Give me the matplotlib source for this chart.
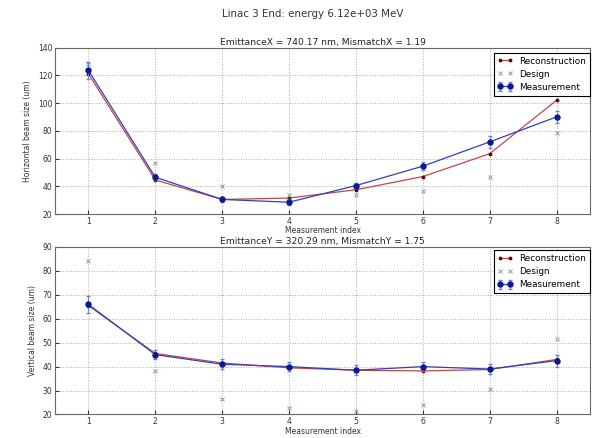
import matplotlib
matplotlib.use("Agg")
import matplotlib.pyplot as plt
import numpy as np

index = [1, 2, 3, 4, 5, 6, 7, 8]

recon_x = [121, 44.5, 30.5, 31.5, 37.5, 47, 63.5, 102]
meas_x = [123.5, 46.5, 30.5, 28.5, 40.5, 54.5, 72, 90]
meas_x_err = [6, 2, 1.5, 2, 2, 3, 4.5, 4.5]
design_x = [128, 57, 40, 34, 33.5, 36.5, 47, 78.5]

recon_y = [65.5, 45.5, 41.5, 39.5, 38.5, 38.2, 38.8, 43]
meas_y = [66, 45, 41, 40, 38.5, 40, 39, 42.5]
meas_y_err = [3.5, 2, 2, 2, 2, 2, 2, 2.5]
design_y = [84, 38, 26.5, 22.5, 21.5, 24, 30.5, 51.5]

title = "Linac 3 End: energy 6.12e+03 MeV"
title_x = "EmittanceX = 740.17 nm, MismatchX = 1.19"
title_y = "EmittanceY = 320.29 nm, MismatchY = 1.75"

plt.rcParams['font.family'] = 'DejaVu Sans'

fig = plt.figure(figsize=(5.98, 4.38), dpi=100)
fig.text(313 / 598, 0.968, title, fontsize=7.4, ha='center', va='center', color='#333333')


def draw_panel(ax, recon, meas, err, design, sub_title, ylabel, ylim, yticks, leg_top):
    ax.plot(index, recon, '.-', color='#c04848', markerfacecolor='#6b0000',
            markeredgecolor='#6b0000', markersize=3.5, linewidth=0.9, label='Reconstruction')
    ax.plot(index, design, 'x', color='#7aaa86', markersize=3, markeredgewidth=0.7,
            linestyle='none', label='Design')
    ax.errorbar(index, meas, yerr=err, fmt='o-', color='#3040b8', markerfacecolor='#0b1a8c',
                markeredgecolor='#0b1a8c', ecolor='#7080d8', markersize=3.6, linewidth=0.9,
                elinewidth=0.8, capsize=1.5, label='Measurement')
    ax.set_xlim(0.5, 8.5)
    ax.set_ylim(*ylim)
    ax.set_xticks(index)
    ax.set_yticks(yticks)
    ax.grid(True, linestyle=':', color='#aaaaaa', linewidth=0.7)
    ax.tick_params(axis='x', labelsize=5.5, colors='#333333', length=3, direction='in', pad=2)
    ax.tick_params(axis='y', labelsize=5.5, colors='#333333', length=3, direction='in', pad=2)
    for s in ax.spines.values():
        s.set_color('#666666')
    ax.set_title(sub_title, fontsize=6.6, pad=2, color='#222222')
    ax.set_xlabel('Measurement index', fontsize=5.5, labelpad=0.5, color='#333333')
    ax.set_ylabel(ylabel, fontsize=5.5, labelpad=4, color='#333333')
    leg = ax.legend(loc='upper right', bbox_to_anchor=(1.0, leg_top), fontsize=6.4,
                    numpoints=2, handlelength=1.7, handletextpad=0.7, fancybox=False,
                    borderaxespad=0, borderpad=0.45, labelspacing=0.45, framealpha=1)
    leg.get_frame().set_edgecolor('black')
    leg.get_frame().set_linewidth(0.8)


ax1 = fig.add_axes([0.092, 0.5114, 0.8946, 0.380])
draw_panel(ax1, recon_x, meas_x, meas_x_err, design_x, title_x,
           'Horizontal beam size (um)', (20, 140), np.arange(20, 141, 20), 0.97)

ax2 = fig.add_axes([0.092, 0.0537, 0.8946, 0.3824])
draw_panel(ax2, recon_y, meas_y, meas_y_err, design_y, title_y,
           'Vertical beam size (um)', (20, 90), np.arange(20, 91, 10), 0.98)

fig.savefig('out.png', dpi=100)
